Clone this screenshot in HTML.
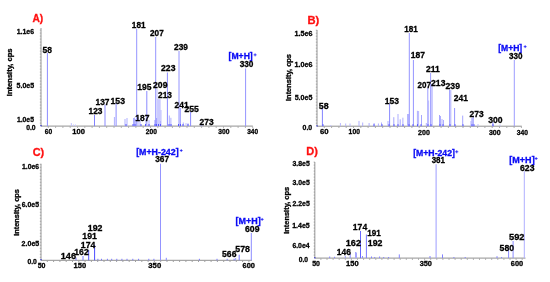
<!DOCTYPE html>
<html><head><meta charset="utf-8"><style>
html,body{margin:0;padding:0;background:#fff;width:550px;height:282px;overflow:hidden}
svg{display:block;will-change:transform}
text{font-family:"Liberation Sans",sans-serif;font-weight:bold;stroke-width:0.3px}
</style></head><body>
<svg width="550" height="282" viewBox="0 0 550 282">
<rect width="550" height="282" fill="#fff"/>
<path d="M41.00 28.00V126.10" stroke="#a8a8a8" stroke-width="1.2" fill="none"/>
<path d="M39.80 123.10h1.4M39.80 120.10h1.4M39.80 117.10h1.4M39.80 114.10h1.4M39.80 111.10h1.4M39.80 108.10h1.4M39.80 105.10h1.4M39.80 102.10h1.4M39.80 99.10h1.4M39.80 96.10h1.4M39.80 93.10h1.4M39.80 90.10h1.4M39.80 87.10h1.4M39.80 84.10h1.4M39.80 81.10h1.4M39.80 78.10h1.4M39.80 75.10h1.4M39.80 72.10h1.4M39.80 69.10h1.4M39.80 66.10h1.4M39.80 63.10h1.4M39.80 60.10h1.4M39.80 57.10h1.4M39.80 54.10h1.4M39.80 51.10h1.4M39.80 48.10h1.4M39.80 45.10h1.4M39.80 42.10h1.4M39.80 39.10h1.4M39.80 36.10h1.4M39.80 33.10h1.4M39.80 30.10h1.4" stroke="#8a8a8a" stroke-width="0.6" fill="none"/>
<path d="M41.00 126.10H252.80" stroke="#858585" stroke-width="0.9" fill="none"/>
<path d="M48.30 126.60v1.2M55.60 126.60v1.2M62.90 126.60v1.2M70.20 126.60v1.2M77.50 126.60v1.2M84.80 126.60v1.2M92.10 126.60v1.2M99.40 126.60v1.2M106.70 126.60v1.2M114.00 126.60v1.2M121.30 126.60v1.2M128.60 126.60v1.2M135.90 126.60v1.2M143.20 126.60v1.2M150.50 126.60v1.2M157.80 126.60v1.2M165.10 126.60v1.2M172.40 126.60v1.2M179.70 126.60v1.2M187.00 126.60v1.2M194.30 126.60v1.2M201.60 126.60v1.2M208.90 126.60v1.2M216.20 126.60v1.2M223.50 126.60v1.2M230.80 126.60v1.2M238.10 126.60v1.2M245.40 126.60v1.2M252.70 126.60v1.2" stroke="#888" stroke-width="0.8" fill="none"/>
<path d="M47.40 126.10V53.00M105.00 126.10V104.60M116.10 126.10V103.00M146.80 126.10V91.00M167.40 126.10V72.50M190.60 126.10V112.00" stroke="#8b8bff" stroke-width="1.0" fill="none"/>
<path d="M94.50 126.10V115.00" stroke="#8282ff" stroke-width="1.0" fill="none"/>
<path d="M136.70 126.10V28.70M155.70 126.10V37.00M179.00 126.10V51.00M180.30 126.10V108.00M245.60 126.10V68.50M155.00 126.10V120.00M160.50 126.10V121.00" stroke="#9494ff" stroke-width="1.0" fill="none"/>
<path d="M157.00 126.10V89.00M161.00 126.10V110.00M71.30 126.10V123.00M186.00 126.10V123.00M188.00 126.10V123.00M202.00 126.10V124.00" stroke="#c0c0ff" stroke-width="1.0" fill="none"/>
<path d="M158.00 126.10V99.00M159.00 126.10V99.50M160.00 126.10V99.00" stroke="#b8b8ff" stroke-width="1.0" fill="none"/>
<path d="M156.60 126.10V118.00" stroke="#9d9dff" stroke-width="1.0" fill="none"/>
<path d="M73.50 126.10V124.50M75.50 126.10V124.50" stroke="#c9c9ff" stroke-width="1.0" fill="none"/>
<path d="M114.40 126.10V117.00M125.00 126.10V119.00M127.00 126.10V118.00M133.50 126.10V118.00M134.50 126.10V117.50M135.30 126.10V119.00M138.00 126.10V117.00M140.00 126.10V119.00M146.00 126.10V118.50M149.00 126.10V120.00M169.30 126.10V115.50M170.90 126.10V117.80M183.30 126.10V122.50M201.00 126.10V124.00" stroke="#afafff" stroke-width="1.0" fill="none"/>
<path d="M126.00 126.10V124.00M133.00 126.10V124.00M135.00 126.10V124.00M141.00 126.10V124.00M145.50 126.10V124.00M149.00 126.10V124.00M155.00 126.10V124.00M156.50 126.10V124.00M158.50 126.10V124.00M160.50 126.10V124.00M169.00 126.10V124.00M171.00 126.10V124.00M178.50 126.10V124.00M180.50 126.10V124.00M183.00 126.10V124.00M188.00 126.10V124.00" stroke="#5656ff" stroke-width="1.0" fill="none"/>
<rect x="40.40" y="125.10" width="1.2" height="1.2" fill="#2020d0"/>
<text x="32.39" y="21.60" font-size="11" fill="#ff1010" stroke="#ff1010" textLength="10.77" lengthAdjust="spacingAndGlyphs">A)</text>
<text x="16.71" y="33.60" font-size="7.4" fill="#000" stroke="#000" textLength="17.39" lengthAdjust="spacingAndGlyphs">1.1e6</text>
<text x="16.53" y="88.00" font-size="7.4" fill="#000" stroke="#000" textLength="17.62" lengthAdjust="spacingAndGlyphs">5.0e5</text>
<text x="16.92" y="121.80" font-size="7.4" fill="#000" stroke="#000" textLength="17.02" lengthAdjust="spacingAndGlyphs">1.0e5</text>
<text x="26.18" y="129.60" font-size="7.4" fill="#000" stroke="#000" textLength="9.45" lengthAdjust="spacingAndGlyphs">0.0</text>
<text transform="translate(12.40,96.16) rotate(-90)" x="0" y="0" font-size="7.2" fill="#000" stroke="#000" textLength="47.72" lengthAdjust="spacingAndGlyphs">Intensity, cps</text>
<text x="44.70" y="133.80" font-size="7.4" fill="#000" stroke="#000" textLength="7.42" lengthAdjust="spacingAndGlyphs">60</text>
<text x="72.37" y="133.80" font-size="7.4" fill="#000" stroke="#000" textLength="12.59" lengthAdjust="spacingAndGlyphs">100</text>
<text x="145.82" y="133.80" font-size="7.4" fill="#000" stroke="#000" textLength="11.11" lengthAdjust="spacingAndGlyphs">200</text>
<text x="218.20" y="133.60" font-size="7.4" fill="#000" stroke="#000" textLength="11.23" lengthAdjust="spacingAndGlyphs">300</text>
<text x="247.20" y="133.60" font-size="7.4" fill="#000" stroke="#000" textLength="10.92" lengthAdjust="spacingAndGlyphs">340</text>
<text x="42.59" y="53.40" font-size="9.2" fill="#000" stroke="#000" textLength="9.43" lengthAdjust="spacingAndGlyphs">58</text>
<text x="131.83" y="28.00" font-size="9.2" fill="#000" stroke="#000" textLength="13.75" lengthAdjust="spacingAndGlyphs">181</text>
<text x="150.06" y="35.80" font-size="9.2" fill="#000" stroke="#000" textLength="13.65" lengthAdjust="spacingAndGlyphs">207</text>
<text x="174.06" y="50.00" font-size="9.2" fill="#000" stroke="#000" textLength="13.90" lengthAdjust="spacingAndGlyphs">239</text>
<text x="228.57" y="58.90" font-size="8.6" fill="#0a0af5" stroke="#0a0af5" textLength="24.17" lengthAdjust="spacingAndGlyphs">[M+H]</text>
<path d="M253.60 54.85H256.60M255.10 53.35V56.35" stroke="#0a0af5" stroke-width="0.75" fill="none"/>
<text x="239.66" y="67.00" font-size="9.2" fill="#000" stroke="#000" textLength="13.83" lengthAdjust="spacingAndGlyphs">330</text>
<text x="161.05" y="71.00" font-size="9.2" fill="#000" stroke="#000" textLength="14.42" lengthAdjust="spacingAndGlyphs">223</text>
<text x="137.31" y="90.00" font-size="9.2" fill="#000" stroke="#000" textLength="14.28" lengthAdjust="spacingAndGlyphs">195</text>
<text x="153.05" y="88.00" font-size="9.2" fill="#000" stroke="#000" textLength="14.43" lengthAdjust="spacingAndGlyphs">209</text>
<text x="158.06" y="97.80" font-size="9.2" fill="#000" stroke="#000" textLength="13.90" lengthAdjust="spacingAndGlyphs">213</text>
<text x="174.56" y="108.00" font-size="9.2" fill="#000" stroke="#000" textLength="14.03" lengthAdjust="spacingAndGlyphs">241</text>
<text x="184.55" y="112.00" font-size="9.2" fill="#000" stroke="#000" textLength="14.35" lengthAdjust="spacingAndGlyphs">255</text>
<text x="135.31" y="121.00" font-size="9.2" fill="#000" stroke="#000" textLength="14.22" lengthAdjust="spacingAndGlyphs">187</text>
<text x="199.55" y="125.30" font-size="9.2" fill="#000" stroke="#000" textLength="14.10" lengthAdjust="spacingAndGlyphs">273</text>
<text x="88.52" y="114.40" font-size="9.2" fill="#000" stroke="#000" textLength="13.93" lengthAdjust="spacingAndGlyphs">123</text>
<text x="95.52" y="105.00" font-size="9.2" fill="#000" stroke="#000" textLength="14.00" lengthAdjust="spacingAndGlyphs">137</text>
<text x="110.50" y="103.60" font-size="9.2" fill="#000" stroke="#000" textLength="14.46" lengthAdjust="spacingAndGlyphs">153</text>
<path d="M317.00 30.00V126.20" stroke="#a8a8a8" stroke-width="1.2" fill="none"/>
<path d="M315.80 123.20h1.4M315.80 120.20h1.4M315.80 117.20h1.4M315.80 114.20h1.4M315.80 111.20h1.4M315.80 108.20h1.4M315.80 105.20h1.4M315.80 102.20h1.4M315.80 99.20h1.4M315.80 96.20h1.4M315.80 93.20h1.4M315.80 90.20h1.4M315.80 87.20h1.4M315.80 84.20h1.4M315.80 81.20h1.4M315.80 78.20h1.4M315.80 75.20h1.4M315.80 72.20h1.4M315.80 69.20h1.4M315.80 66.20h1.4M315.80 63.20h1.4M315.80 60.20h1.4M315.80 57.20h1.4M315.80 54.20h1.4M315.80 51.20h1.4M315.80 48.20h1.4M315.80 45.20h1.4M315.80 42.20h1.4M315.80 39.20h1.4M315.80 36.20h1.4M315.80 33.20h1.4M315.80 30.20h1.4" stroke="#8a8a8a" stroke-width="0.6" fill="none"/>
<path d="M317.00 126.20H521.80" stroke="#858585" stroke-width="0.9" fill="none"/>
<path d="M324.30 126.70v1.2M331.60 126.70v1.2M338.90 126.70v1.2M346.20 126.70v1.2M353.50 126.70v1.2M360.80 126.70v1.2M368.10 126.70v1.2M375.40 126.70v1.2M382.70 126.70v1.2M390.00 126.70v1.2M397.30 126.70v1.2M404.60 126.70v1.2M411.90 126.70v1.2M419.20 126.70v1.2M426.50 126.70v1.2M433.80 126.70v1.2M441.10 126.70v1.2M448.40 126.70v1.2M455.70 126.70v1.2M463.00 126.70v1.2M470.30 126.70v1.2M477.60 126.70v1.2M484.90 126.70v1.2M492.20 126.70v1.2M499.50 126.70v1.2M506.80 126.70v1.2M514.10 126.70v1.2M521.40 126.70v1.2" stroke="#888" stroke-width="0.8" fill="none"/>
<path d="M322.40 126.20V108.00" stroke="#8282ff" stroke-width="1.0" fill="none"/>
<path d="M389.60 126.20V103.70M492.90 126.20V122.00" stroke="#8b8bff" stroke-width="1.0" fill="none"/>
<path d="M409.30 126.20V33.00M413.40 126.20V60.00M454.60 126.20V108.00M472.00 126.20V118.00M473.20 126.20V116.00" stroke="#9494ff" stroke-width="1.0" fill="none"/>
<path d="M427.80 126.20V88.00M430.60 126.20V73.00M432.00 126.20V84.00M449.60 126.20V89.50M514.30 126.20V60.00" stroke="#9d9dff" stroke-width="1.0" fill="none"/>
<path d="M428.60 126.20V100.50M340.40 126.20V123.00M345.70 126.20V123.50M350.00 126.20V123.50M418.60 126.20V111.00" stroke="#b8b8ff" stroke-width="1.0" fill="none"/>
<path d="M450.80 126.20V90.00M359.00 126.20V120.90M362.70 126.20V122.50M369.10 126.20V123.00M374.10 126.20V123.00M378.40 126.20V123.50M381.50 126.20V122.50M388.00 126.20V121.00M398.00 126.20V114.00M402.90 126.20V117.70M407.60 126.20V114.00M408.50 126.20V114.00M417.40 126.20V110.80M426.30 126.20V123.00M440.50 126.20V116.00M442.00 126.20V119.00M443.50 126.20V120.00M471.00 126.20V121.00" stroke="#afafff" stroke-width="1.0" fill="none"/>
<path d="M330.80 126.20V125.00M478.00 126.20V124.00M500.00 126.20V124.50" stroke="#c0c0ff" stroke-width="1.0" fill="none"/>
<path d="M393.80 126.20V117.20M400.20 126.20V119.30M421.50 126.20V115.00M439.50 126.20V115.00M462.70 126.20V115.60" stroke="#a6a6ff" stroke-width="1.0" fill="none"/>
<path d="M323.00 126.20V124.20M374.00 126.20V124.20M382.00 126.20V124.20M389.00 126.20V124.20M394.00 126.20V124.20M398.00 126.20V124.20M403.00 126.20V124.20M409.00 126.20V124.20M413.00 126.20V124.20M417.50 126.20V124.20M421.00 126.20V124.20M428.00 126.20V124.20M431.00 126.20V124.20M440.00 126.20V124.20M443.00 126.20V124.20M450.00 126.20V124.20M455.00 126.20V124.20M463.00 126.20V124.20M472.00 126.20V124.20M474.00 126.20V124.20M493.00 126.20V124.20" stroke="#5656ff" stroke-width="1.0" fill="none"/>
<rect x="316.40" y="125.30" width="1.2" height="1.2" fill="#2020d0"/>
<text x="307.40" y="24.40" font-size="11" fill="#ff1010" stroke="#ff1010" textLength="11.81" lengthAdjust="spacingAndGlyphs">B)</text>
<text x="294.40" y="36.20" font-size="7.4" fill="#000" stroke="#000" textLength="18.02" lengthAdjust="spacingAndGlyphs">1.5e6</text>
<text x="294.40" y="67.30" font-size="7.4" fill="#000" stroke="#000" textLength="18.02" lengthAdjust="spacingAndGlyphs">1.0e6</text>
<text x="294.63" y="99.60" font-size="7.4" fill="#000" stroke="#000" textLength="17.72" lengthAdjust="spacingAndGlyphs">5.0e5</text>
<text x="302.57" y="129.80" font-size="7.4" fill="#000" stroke="#000" textLength="9.66" lengthAdjust="spacingAndGlyphs">0.0</text>
<text transform="translate(291.40,100.95) rotate(-90)" x="0" y="0" font-size="7.2" fill="#000" stroke="#000" textLength="46.91" lengthAdjust="spacingAndGlyphs">Intensity, cps</text>
<text x="320.06" y="133.60" font-size="7.4" fill="#000" stroke="#000" textLength="8.61" lengthAdjust="spacingAndGlyphs">60</text>
<text x="348.62" y="133.60" font-size="7.4" fill="#000" stroke="#000" textLength="11.31" lengthAdjust="spacingAndGlyphs">100</text>
<text x="418.10" y="134.70" font-size="7.4" fill="#000" stroke="#000" textLength="11.84" lengthAdjust="spacingAndGlyphs">200</text>
<text x="488.89" y="134.70" font-size="7.4" fill="#000" stroke="#000" textLength="11.75" lengthAdjust="spacingAndGlyphs">300</text>
<text x="516.70" y="134.70" font-size="7.4" fill="#000" stroke="#000" textLength="11.23" lengthAdjust="spacingAndGlyphs">340</text>
<text x="318.78" y="108.50" font-size="9.2" fill="#000" stroke="#000" textLength="9.85" lengthAdjust="spacingAndGlyphs">58</text>
<text x="384.82" y="103.80" font-size="9.2" fill="#000" stroke="#000" textLength="14.14" lengthAdjust="spacingAndGlyphs">153</text>
<text x="404.34" y="32.30" font-size="9.2" fill="#000" stroke="#000" textLength="13.54" lengthAdjust="spacingAndGlyphs">181</text>
<text x="410.81" y="58.00" font-size="9.2" fill="#000" stroke="#000" textLength="14.22" lengthAdjust="spacingAndGlyphs">187</text>
<text x="426.05" y="72.00" font-size="9.2" fill="#000" stroke="#000" textLength="13.84" lengthAdjust="spacingAndGlyphs">211</text>
<text x="417.57" y="88.00" font-size="9.2" fill="#000" stroke="#000" textLength="13.44" lengthAdjust="spacingAndGlyphs">207</text>
<text x="431.05" y="86.40" font-size="9.2" fill="#000" stroke="#000" textLength="14.42" lengthAdjust="spacingAndGlyphs">213</text>
<text x="445.55" y="89.00" font-size="9.2" fill="#000" stroke="#000" textLength="14.43" lengthAdjust="spacingAndGlyphs">239</text>
<text x="453.75" y="101.00" font-size="9.2" fill="#000" stroke="#000" textLength="14.14" lengthAdjust="spacingAndGlyphs">241</text>
<text x="469.55" y="117.40" font-size="9.2" fill="#000" stroke="#000" textLength="14.10" lengthAdjust="spacingAndGlyphs">273</text>
<text x="488.15" y="123.40" font-size="9.2" fill="#000" stroke="#000" textLength="14.35" lengthAdjust="spacingAndGlyphs">300</text>
<text x="498.17" y="50.60" font-size="8.6" fill="#0a0af5" stroke="#0a0af5" textLength="24.06" lengthAdjust="spacingAndGlyphs">[M+H]</text>
<path d="M523.70 46.65H526.60M525.15 45.20V48.10" stroke="#0a0af5" stroke-width="0.75" fill="none"/>
<text x="508.96" y="59.00" font-size="9.2" fill="#000" stroke="#000" textLength="13.52" lengthAdjust="spacingAndGlyphs">330</text>
<path d="M41.00 163.70V260.30" stroke="#a8a8a8" stroke-width="1.2" fill="none"/>
<path d="M39.80 257.30h1.4M39.80 254.30h1.4M39.80 251.30h1.4M39.80 248.30h1.4M39.80 245.30h1.4M39.80 242.30h1.4M39.80 239.30h1.4M39.80 236.30h1.4M39.80 233.30h1.4M39.80 230.30h1.4M39.80 227.30h1.4M39.80 224.30h1.4M39.80 221.30h1.4M39.80 218.30h1.4M39.80 215.30h1.4M39.80 212.30h1.4M39.80 209.30h1.4M39.80 206.30h1.4M39.80 203.30h1.4M39.80 200.30h1.4M39.80 197.30h1.4M39.80 194.30h1.4M39.80 191.30h1.4M39.80 188.30h1.4M39.80 185.30h1.4M39.80 182.30h1.4M39.80 179.30h1.4M39.80 176.30h1.4M39.80 173.30h1.4M39.80 170.30h1.4M39.80 167.30h1.4M39.80 164.30h1.4" stroke="#8a8a8a" stroke-width="0.6" fill="none"/>
<path d="M41.00 260.30H252.00" stroke="#858585" stroke-width="0.9" fill="none"/>
<path d="M47.30 260.80v1.2M53.60 260.80v1.2M59.90 260.80v1.2M66.20 260.80v1.2M72.50 260.80v1.2M78.80 260.80v1.2M85.10 260.80v1.2M91.40 260.80v1.2M97.70 260.80v1.2M104.00 260.80v1.2M110.30 260.80v1.2M116.60 260.80v1.2M122.90 260.80v1.2M129.20 260.80v1.2M135.50 260.80v1.2M141.80 260.80v1.2M148.10 260.80v1.2M154.40 260.80v1.2M160.70 260.80v1.2M167.00 260.80v1.2M173.30 260.80v1.2M179.60 260.80v1.2M185.90 260.80v1.2M192.20 260.80v1.2M198.50 260.80v1.2M204.80 260.80v1.2M211.10 260.80v1.2M217.40 260.80v1.2M223.70 260.80v1.2M230.00 260.80v1.2M236.30 260.80v1.2M242.60 260.80v1.2M248.90 260.80v1.2" stroke="#888" stroke-width="0.8" fill="none"/>
<path d="M76.00 260.30V257.50M83.00 260.30V256.00M239.20 260.30V254.70M97.90 260.30V258.80M101.50 260.30V258.80M107.40 260.30V258.80M111.70 260.30V258.80M116.80 260.30V258.80M121.90 260.30V258.80M127.00 260.30V258.80M132.80 260.30V258.80M138.60 260.30V258.80M148.80 260.30V258.80M153.90 260.30V258.80M199.40 260.30V258.80M217.00 260.30V258.80M227.20 260.30V258.80M234.10 260.30V258.80" stroke="#7979ff" stroke-width="1.0" fill="none"/>
<path d="M88.70 260.30V250.00" stroke="#5656ff" stroke-width="1.0" fill="none"/>
<path d="M94.60 260.30V245.00" stroke="#4d4dff" stroke-width="1.0" fill="none"/>
<path d="M160.50 260.30V163.70" stroke="#9494ff" stroke-width="1.0" fill="none"/>
<path d="M166.30 260.30V257.80M251.30 260.30V233.00" stroke="#8b8bff" stroke-width="1.0" fill="none"/>
<path d="M235.70 260.30V258.00" stroke="#9d9dff" stroke-width="1.0" fill="none"/>
<rect x="40.40" y="259.10" width="1.2" height="1.2" fill="#2020d0"/>
<text x="32.70" y="155.70" font-size="11" fill="#ff1010" stroke="#ff1010" textLength="11.49" lengthAdjust="spacingAndGlyphs">C)</text>
<text x="21.92" y="168.90" font-size="7.4" fill="#000" stroke="#000" textLength="17.18" lengthAdjust="spacingAndGlyphs">1.0e6</text>
<text x="21.79" y="207.20" font-size="7.4" fill="#000" stroke="#000" textLength="17.25" lengthAdjust="spacingAndGlyphs">6.0e5</text>
<text x="21.60" y="246.00" font-size="7.4" fill="#000" stroke="#000" textLength="17.65" lengthAdjust="spacingAndGlyphs">2.0e5</text>
<text x="27.38" y="263.90" font-size="7.4" fill="#000" stroke="#000" textLength="9.45" lengthAdjust="spacingAndGlyphs">0.0</text>
<text transform="translate(19.10,235.85) rotate(-90)" x="0" y="0" font-size="7.2" fill="#000" stroke="#000" textLength="46.80" lengthAdjust="spacingAndGlyphs">Intensity, cps</text>
<text x="37.63" y="268.30" font-size="7.4" fill="#000" stroke="#000" textLength="7.81" lengthAdjust="spacingAndGlyphs">50</text>
<text x="73.57" y="268.30" font-size="7.4" fill="#000" stroke="#000" textLength="12.59" lengthAdjust="spacingAndGlyphs">150</text>
<text x="148.37" y="268.30" font-size="7.4" fill="#000" stroke="#000" textLength="12.79" lengthAdjust="spacingAndGlyphs">350</text>
<text x="242.58" y="268.30" font-size="7.4" fill="#000" stroke="#000" textLength="12.38" lengthAdjust="spacingAndGlyphs">600</text>
<text x="136.16" y="154.50" font-size="8.6" fill="#0a0af5" stroke="#0a0af5" textLength="42.49" lengthAdjust="spacingAndGlyphs">[M+H-242]</text>
<path d="M179.90 150.55H182.60M181.25 149.20V151.90" stroke="#0a0af5" stroke-width="0.75" fill="none"/>
<text x="155.16" y="161.80" font-size="9.2" fill="#000" stroke="#000" textLength="13.86" lengthAdjust="spacingAndGlyphs">367</text>
<text x="87.79" y="231.00" font-size="9.2" fill="#000" stroke="#000" textLength="14.71" lengthAdjust="spacingAndGlyphs">192</text>
<text x="82.30" y="239.30" font-size="9.2" fill="#000" stroke="#000" textLength="14.60" lengthAdjust="spacingAndGlyphs">191</text>
<text x="80.80" y="247.80" font-size="9.2" fill="#000" stroke="#000" textLength="14.60" lengthAdjust="spacingAndGlyphs">174</text>
<text x="74.31" y="255.30" font-size="9.2" fill="#000" stroke="#000" textLength="14.39" lengthAdjust="spacingAndGlyphs">162</text>
<text x="60.78" y="259.30" font-size="9.2" fill="#000" stroke="#000" textLength="15.21" lengthAdjust="spacingAndGlyphs">146</text>
<text x="235.55" y="224.00" font-size="8.6" fill="#0a0af5" stroke="#0a0af5" textLength="25.10" lengthAdjust="spacingAndGlyphs">[M+H]</text>
<path d="M260.70 219.40H263.60M262.15 217.95V220.85" stroke="#0a0af5" stroke-width="0.75" fill="none"/>
<text x="245.03" y="232.30" font-size="9.2" fill="#000" stroke="#000" textLength="14.44" lengthAdjust="spacingAndGlyphs">609</text>
<text x="235.28" y="252.10" font-size="9.2" fill="#000" stroke="#000" textLength="14.65" lengthAdjust="spacingAndGlyphs">578</text>
<text x="222.08" y="257.30" font-size="9.2" fill="#000" stroke="#000" textLength="14.38" lengthAdjust="spacingAndGlyphs">566</text>
<path d="M314.80 162.00V258.10" stroke="#a8a8a8" stroke-width="1.2" fill="none"/>
<path d="M313.60 255.10h1.4M313.60 252.10h1.4M313.60 249.10h1.4M313.60 246.10h1.4M313.60 243.10h1.4M313.60 240.10h1.4M313.60 237.10h1.4M313.60 234.10h1.4M313.60 231.10h1.4M313.60 228.10h1.4M313.60 225.10h1.4M313.60 222.10h1.4M313.60 219.10h1.4M313.60 216.10h1.4M313.60 213.10h1.4M313.60 210.10h1.4M313.60 207.10h1.4M313.60 204.10h1.4M313.60 201.10h1.4M313.60 198.10h1.4M313.60 195.10h1.4M313.60 192.10h1.4M313.60 189.10h1.4M313.60 186.10h1.4M313.60 183.10h1.4M313.60 180.10h1.4M313.60 177.10h1.4M313.60 174.10h1.4M313.60 171.10h1.4M313.60 168.10h1.4M313.60 165.10h1.4M313.60 162.10h1.4" stroke="#8a8a8a" stroke-width="0.6" fill="none"/>
<path d="M314.80 258.10H525.50" stroke="#858585" stroke-width="0.9" fill="none"/>
<path d="M320.90 258.60v1.2M327.00 258.60v1.2M333.10 258.60v1.2M339.20 258.60v1.2M345.30 258.60v1.2M351.40 258.60v1.2M357.50 258.60v1.2M363.60 258.60v1.2M369.70 258.60v1.2M375.80 258.60v1.2M381.90 258.60v1.2M388.00 258.60v1.2M394.10 258.60v1.2M400.20 258.60v1.2M406.30 258.60v1.2M412.40 258.60v1.2M418.50 258.60v1.2M424.60 258.60v1.2M430.70 258.60v1.2M436.80 258.60v1.2M442.90 258.60v1.2M449.00 258.60v1.2M455.10 258.60v1.2M461.20 258.60v1.2M467.30 258.60v1.2M473.40 258.60v1.2M479.50 258.60v1.2M485.60 258.60v1.2M491.70 258.60v1.2M497.80 258.60v1.2M503.90 258.60v1.2M510.00 258.60v1.2M516.10 258.60v1.2M522.20 258.60v1.2" stroke="#888" stroke-width="0.8" fill="none"/>
<path d="M345.30 258.10V256.00M436.10 258.10V164.20" stroke="#9d9dff" stroke-width="1.0" fill="none"/>
<path d="M350.20 258.10V253.50M362.50 258.10V256.00M513.10 258.10V241.00M508.60 258.10V248.70" stroke="#8b8bff" stroke-width="1.0" fill="none"/>
<path d="M355.50 258.10V252.00M356.50 258.10V252.50" stroke="#a6a6ff" stroke-width="1.0" fill="none"/>
<path d="M360.50 258.10V231.00" stroke="#6767ff" stroke-width="1.0" fill="none"/>
<path d="M366.40 258.10V234.50" stroke="#7979ff" stroke-width="1.0" fill="none"/>
<path d="M524.30 258.10V171.20" stroke="#afafff" stroke-width="1.0" fill="none"/>
<path d="M329.70 258.10V256.50M334.60 258.10V256.80M371.50 258.10V256.50M374.70 258.10V257.00M379.60 258.10V256.50M383.70 258.10V257.00M388.60 258.10V257.00M399.30 258.10V254.40M430.00 258.10V256.00M442.50 258.10V254.40M453.90 258.10V257.00M465.20 258.10V257.00M497.00 258.10V256.20M501.60 258.10V257.00" stroke="#8282ff" stroke-width="1.0" fill="none"/>
<rect x="314.20" y="257.20" width="1.2" height="1.2" fill="#2020d0"/>
<text x="306.31" y="155.00" font-size="11" fill="#ff1010" stroke="#ff1010" textLength="11.59" lengthAdjust="spacingAndGlyphs">D)</text>
<text x="292.49" y="166.40" font-size="7.4" fill="#000" stroke="#000" textLength="17.25" lengthAdjust="spacingAndGlyphs">3.8e5</text>
<text x="292.49" y="185.30" font-size="7.4" fill="#000" stroke="#000" textLength="17.25" lengthAdjust="spacingAndGlyphs">3.0e5</text>
<text x="292.41" y="206.40" font-size="7.4" fill="#000" stroke="#000" textLength="17.34" lengthAdjust="spacingAndGlyphs">2.2e5</text>
<text x="292.21" y="227.90" font-size="7.4" fill="#000" stroke="#000" textLength="17.54" lengthAdjust="spacingAndGlyphs">1.4e5</text>
<text x="292.40" y="248.40" font-size="7.4" fill="#000" stroke="#000" textLength="17.19" lengthAdjust="spacingAndGlyphs">6.0e4</text>
<text x="298.78" y="262.30" font-size="7.4" fill="#000" stroke="#000" textLength="9.35" lengthAdjust="spacingAndGlyphs">0.0</text>
<text transform="translate(288.80,233.75) rotate(-90)" x="0" y="0" font-size="7.2" fill="#000" stroke="#000" textLength="46.91" lengthAdjust="spacingAndGlyphs">Intensity, cps</text>
<text x="312.13" y="266.40" font-size="7.4" fill="#000" stroke="#000" textLength="7.81" lengthAdjust="spacingAndGlyphs">50</text>
<text x="346.07" y="266.40" font-size="7.4" fill="#000" stroke="#000" textLength="12.59" lengthAdjust="spacingAndGlyphs">150</text>
<text x="419.68" y="266.40" font-size="7.4" fill="#000" stroke="#000" textLength="12.27" lengthAdjust="spacingAndGlyphs">350</text>
<text x="510.78" y="266.40" font-size="7.4" fill="#000" stroke="#000" textLength="12.38" lengthAdjust="spacingAndGlyphs">600</text>
<text x="413.16" y="156.30" font-size="8.6" fill="#0a0af5" stroke="#0a0af5" textLength="41.77" lengthAdjust="spacingAndGlyphs">[M+H-242]</text>
<path d="M455.20 151.75H458.30M456.75 150.20V153.30" stroke="#0a0af5" stroke-width="0.75" fill="none"/>
<text x="431.67" y="162.90" font-size="9.2" fill="#000" stroke="#000" textLength="13.41" lengthAdjust="spacingAndGlyphs">381</text>
<text x="509.34" y="162.80" font-size="8.6" fill="#0a0af5" stroke="#0a0af5" textLength="25.31" lengthAdjust="spacingAndGlyphs">[M+H]</text>
<path d="M534.70 158.55H537.60M536.15 157.10V160.00" stroke="#0a0af5" stroke-width="0.75" fill="none"/>
<text x="520.03" y="170.60" font-size="9.2" fill="#000" stroke="#000" textLength="14.44" lengthAdjust="spacingAndGlyphs">623</text>
<text x="352.81" y="230.30" font-size="9.2" fill="#000" stroke="#000" textLength="14.39" lengthAdjust="spacingAndGlyphs">174</text>
<text x="367.34" y="235.50" font-size="9.2" fill="#000" stroke="#000" textLength="13.54" lengthAdjust="spacingAndGlyphs">191</text>
<text x="345.77" y="245.80" font-size="9.2" fill="#000" stroke="#000" textLength="15.25" lengthAdjust="spacingAndGlyphs">162</text>
<text x="367.79" y="245.80" font-size="9.2" fill="#000" stroke="#000" textLength="14.71" lengthAdjust="spacingAndGlyphs">192</text>
<text x="336.82" y="254.80" font-size="9.2" fill="#000" stroke="#000" textLength="14.14" lengthAdjust="spacingAndGlyphs">146</text>
<text x="509.06" y="240.30" font-size="9.2" fill="#000" stroke="#000" textLength="15.46" lengthAdjust="spacingAndGlyphs">592</text>
<text x="499.58" y="250.80" font-size="9.2" fill="#000" stroke="#000" textLength="14.43" lengthAdjust="spacingAndGlyphs">580</text>
</svg>
</body></html>
